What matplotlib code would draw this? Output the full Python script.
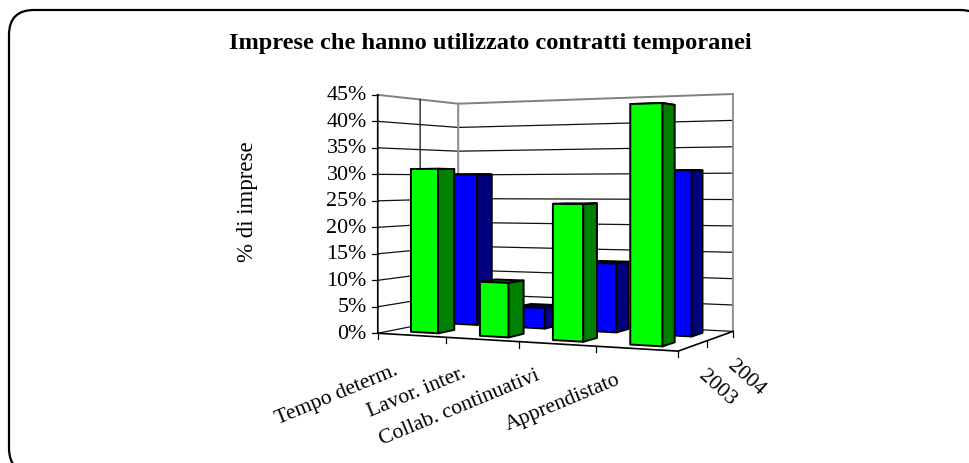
import matplotlib
matplotlib.use("Agg")
import matplotlib.pyplot as plt
import numpy as np
from matplotlib.patches import FancyBboxPatch, Polygon

plt.rcParams["font.family"] = ["Liberation Serif", "DejaVu Serif"]

title = "Imprese che hanno utilizzato contratti temporanei"
ylabel = "% di imprese"
categories = ["Tempo determ.", "Lavor. inter.", "Collab. continuativi", "Apprendistato"]
series_names = ["2003", "2004"]
values_2003 = [31, 10, 24.5, 42]
values_2004 = [30, 4, 13, 30.5]
yticks = [0, 5, 10, 15, 20, 25, 30, 35, 40, 45]

# picture positions of the chart box corners, used to fit the 3d view
# (category pos, series pos, value) -> (px x, px y)
anchors = [
    ((0, 0, 0), (378, 333)), ((4, 0, 0), (677, 351)), ((0, 2, 0), (458, 317)),
    ((4, 2, 0), (733, 331)), ((0, 0, 45), (378, 94)), ((0, 2, 45), (458, 104)),
    ((4, 2, 45), (733, 94)), ((1, 0, 0), (446, 338)), ((2, 0, 0), (520, 342)),
    ((3, 0, 0), (596, 346)), ((4, 1, 0), (708, 341)), ((0, 1, 45), (420, 100)),
]
A, b = [], []
for (cx, cz, cy), (u, v) in anchors:
    A.append([cx, cz, cy, 1, 0, 0, 0, 0, -u * cx, -u * cz, -u * cy]); b.append(u)
    A.append([0, 0, 0, 0, cx, cz, cy, 1, -v * cx, -v * cz, -v * cy]); b.append(v)
P = np.append(np.linalg.lstsq(np.array(A, float), np.array(b, float), rcond=None)[0], 1).reshape(3, 4)


def proj(cx, cz, cy):
    u, v, w = P @ np.array([cx, cz, cy, 1.0])
    return u / w, v / w


def line(ax, pts, color="black", lw=0.8, z=2):
    xs, ys = zip(*[proj(*p) for p in pts])
    ax.plot(xs, ys, color=color, lw=lw, zorder=z, solid_capstyle="projecting")


def bar(ax, cx, cz, val, front, side, top):
    x0, x1, z0, z1 = cx + 0.3, cx + 0.7, cz + 0.3, cz + 0.7
    faces = [
        ([(x0, z0, val), (x1, z0, val), (x1, z1, val), (x0, z1, val)], top),
        ([(x0, z0, 0), (x1, z0, 0), (x1, z0, val), (x0, z0, val)], front),
        ([(x1, z0, 0), (x1, z1, 0), (x1, z1, val), (x1, z0, val)], side),
    ]
    for pts, col in faces:
        ax.add_patch(Polygon([proj(*p) for p in pts], closed=True, fc=col, ec="black",
                             lw=1.4, joinstyle="round", zorder=5))


fig = plt.figure(figsize=(9.7, 4.63), dpi=100)
ax = fig.add_axes([0, 0, 1, 1])
ax.set_xlim(0, 970); ax.set_ylim(463, 0); ax.axis("off")

# outer rounded frame, runs off the picture at right and bottom
ax.add_patch(FancyBboxPatch((34, 35), 926, 413, boxstyle="round,pad=25,rounding_size=25",
                            fc="white", ec="black", lw=1.6, zorder=1))

ax.text(490, 44, title, ha="center", va="center", fontsize=17.6, fontweight="bold")
ax.text(248, 202, ylabel, ha="center", va="center", rotation=90, fontsize=16.5)

# gridlines on side and back wall
for t in yticks:
    col = "#808080" if t == 45 else "#101010"
    lw = 1.4 if t == 45 else 0.9
    line(ax, [(0, 0, t), (0, 2, t), (4, 2, t)], color=col, lw=lw)
    u, v = proj(0, 0, t)
    ax.plot([u - 6, u], [v, v], color="black", lw=0.9, zorder=2)
    ax.text(u - 11, v + 1, f"{t}%", ha="right", va="center", fontsize=15.8)
line(ax, [(0, 1, 0), (0, 1, 45)], color="#101010", lw=0.9)
line(ax, [(0, 2, 0), (0, 2, 45)], color="#909090", lw=1.5)
line(ax, [(4, 2, 0), (4, 2, 45)], color="#909090", lw=1.4)
line(ax, [(0, 0, 0), (0, 0, 45)], color="black", lw=1.2)

# floor edges and ticks
line(ax, [(0, 0, 0), (4, 0, 0), (4, 2, 0)], color="black", lw=1.2)
for c in range(5):
    u, v = proj(c, 0, 0)
    ax.plot([u, u], [v, v + 6], color="black", lw=0.9, zorder=2)
for s in [1, 2]:
    u, v = proj(4, s, 0)
    ax.plot([u, u], [v, v + 6], color="black", lw=0.9, zorder=2)

# back row first
for c, val in enumerate(values_2004):
    bar(ax, c, 1, val, "#0000FF", "#000080", "#000080")
for c, val in enumerate(values_2003):
    bar(ax, c, 0, val, "#00FF00", "#008000", "#008000")

cat_pos = [(397, 370), (465, 373), (539, 375), (619, 379)]
for name, (u, v) in zip(categories, cat_pos):
    ax.text(u, v, name, ha="right", va="center", rotation=22.5, rotation_mode="anchor", fontsize=15.6)
ser_pos = [(717, 388), (746, 378)]
for name, (u, v) in zip(series_names, ser_pos):
    ax.text(u, v, name, ha="center", va="center", rotation=-42, rotation_mode="anchor", fontsize=15.5)

fig.savefig("out.png", dpi=100)
